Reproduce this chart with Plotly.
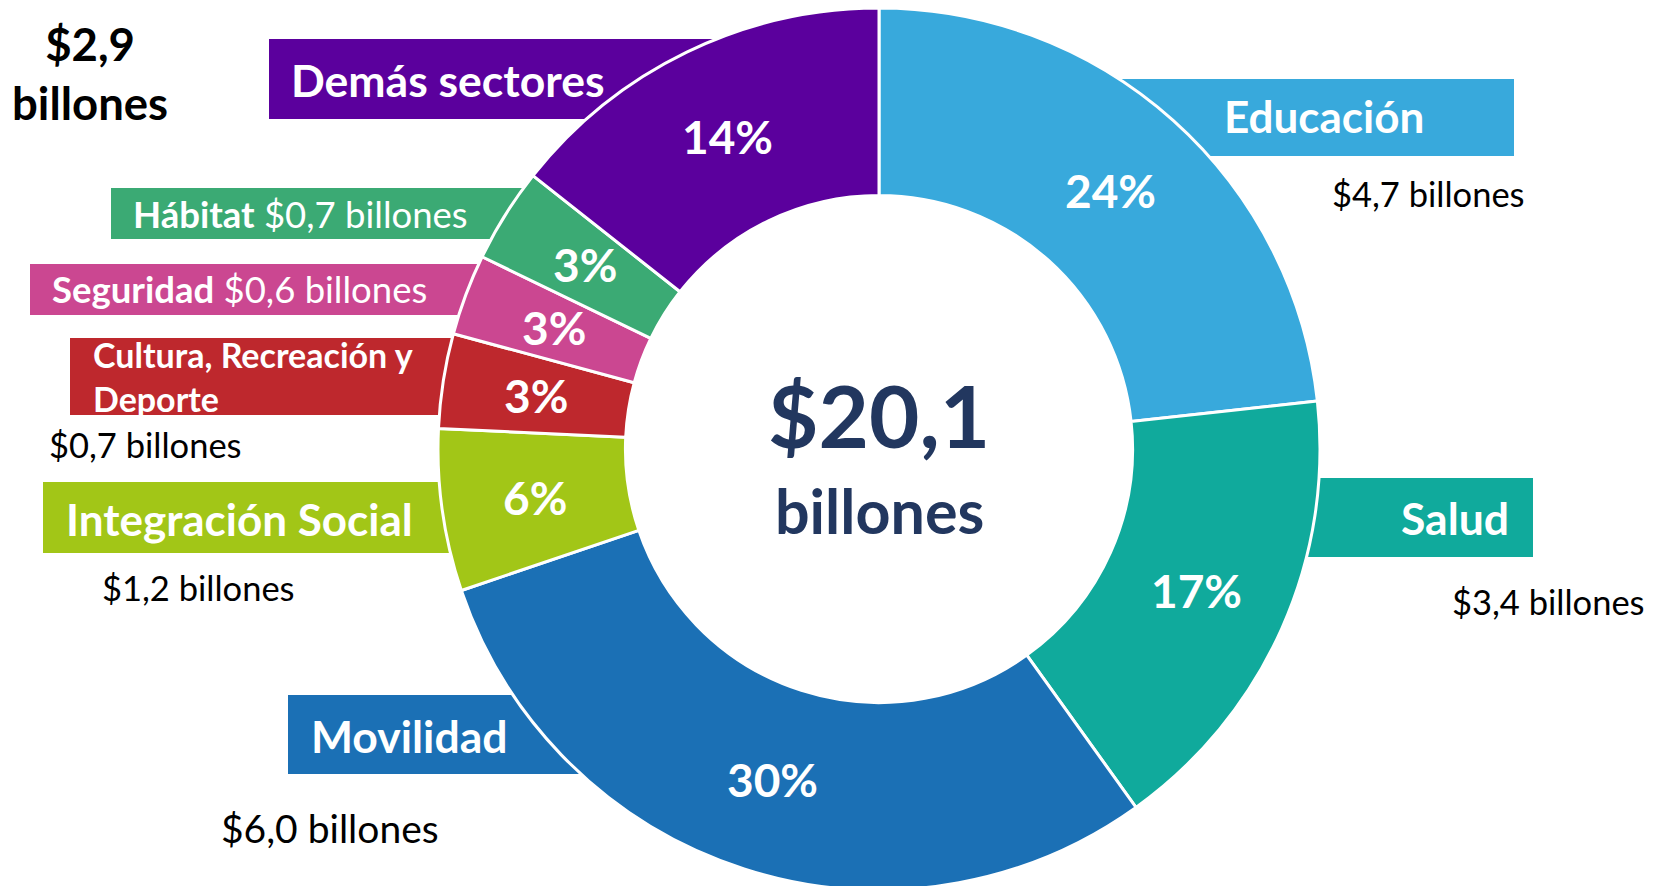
import math
import plotly.graph_objects as go

W, H = 1655, 886
OFF = 8  # page body margin of the browser

sectors = ["Educación", "Salud", "Movilidad", "Integración Social",
           "Cultura, Recreación y Deporte", "Seguridad", "Hábitat", "Demás sectores"]
values = [4.7, 3.4, 6.0, 1.2, 0.7, 0.6, 0.7, 2.9]
pct_labels = ["24%", "17%", "30%", "6%", "3%", "3%", "3%", "14%"]
amount_labels = ["$4,7 billones", "$3,4 billones", "$6,0 billones", "$1,2 billones",
                 "$0,7 billones", "$0,6 billones", "$0,7 billones", "$2,9 billones"]
colors = ["#38A9DC", "#10AA9C", "#1B70B5", "#A2C617",
          "#BE282D", "#CB4791", "#3BAA74", "#5B009D"]
total_label = "$20,1"

FONT = "Lato"

def px(x):
    return (x - OFF) / W

def py(y):
    return 1 - (y - OFF) / H

R = 441
HOLE = 0.575
cx, cy = 879, 449

fig = go.Figure()
fig.add_trace(go.Pie(
    labels=sectors, values=values, text=pct_labels,
    textinfo="none",
    sort=False, direction="clockwise", rotation=0, hole=HOLE,
    marker=dict(colors=colors, line=dict(color="white", width=3)),
    domain=dict(x=[px(cx - R), px(cx + R)], y=[max(0, py(cy + R)), min(1, py(cy - R))]),
    hoverinfo="label+value", showlegend=False,
))

# label boxes (x0, x1, y0, y1 in screen pixels), drawn beneath the donut
boxes = {
    "Educación": (1000, 1514, 79, 156),
    "Salud": (1200, 1533, 478, 557),
    "Movilidad": (288, 700, 695, 774),
    "Integración Social": (43, 560, 482, 553),
    "Cultura, Recreación y Deporte": (70, 560, 338, 415),
    "Seguridad": (30, 580, 264, 315),
    "Hábitat": (111, 620, 188, 239),
    "Demás sectores": (269, 800, 39, 119),
}
shapes = []
for name, col in zip(sectors, colors):
    x0, x1, y0, y1 = boxes[name]
    shapes.append(dict(type="rect", xref="paper", yref="paper", layer="below",
                       x0=px(x0), x1=px(x1), y0=py(y1), y1=py(y0),
                       fillcolor=col, line=dict(width=0)))

ann = []
def add(text, x, y, size, color, xanchor="center", bold=False, align="center"):
    ann.append(dict(text=text, x=px(x), y=py(y), xref="paper", yref="paper",
                    xanchor=xanchor, yanchor="middle", showarrow=False, align=align,
                    font=dict(family=FONT, size=size, color=color,
                              weight="bold" if bold else "normal")))

# percentage labels at the middle of each ring segment (derived from the values)
total = sum(values)
r_mid = R * (1 + HOLE) / 2
cum = 0.0
for v, lab in zip(values, pct_labels):
    ang = 2 * math.pi * (cum + v / 2) / total
    cum += v
    add(lab, cx + r_mid * math.sin(ang), cy - r_mid * math.cos(ang), 46, "white", "center", True)

add("Demás sectores", 289, 79, 44.5, "white", "left", True)
add("Educación", 1222, 116, 44, "white", "left", True)
add(amount_labels[0], 1428, 193, 34.5, "black")
add("Salud", 1511, 517, 44.5, "white", "right", True)
add(amount_labels[1], 1647, 601, 34.5, "black", "right")
add("Movilidad", 309, 735, 44.5, "white", "left", True)
add(amount_labels[2], 330, 828, 39, "black")
add("Integración Social", 64, 519, 44, "white", "left", True)
add(amount_labels[3], 198, 587, 34.5, "black")
add("<b>Cultura, Recreación y</b><br><b>Deporte</b>", 91, 376, 34, "white", "left", False, "left")
add(amount_labels[4], 47, 444, 34.5, "black", "left")
add("<b>Seguridad</b> " + amount_labels[5], 50, 289, 36.5, "white", "left")
add("<b>Hábitat</b> " + amount_labels[6], 131, 214, 36.5, "white", "left")
add("$2,9<br>billones", 90, 73, 45.5, "black", "center", True)
add(total_label, cx, 415, 87, "#22375F", "center", True)
add("billones", cx, 510, 61, "#22375F", "center", True)

fig.update_layout(
    width=W, height=H, margin=dict(l=0, r=0, t=0, b=0),
    paper_bgcolor="white", plot_bgcolor="white",
    shapes=shapes, annotations=ann, showlegend=False,
)

fig.write_html("out.html")
